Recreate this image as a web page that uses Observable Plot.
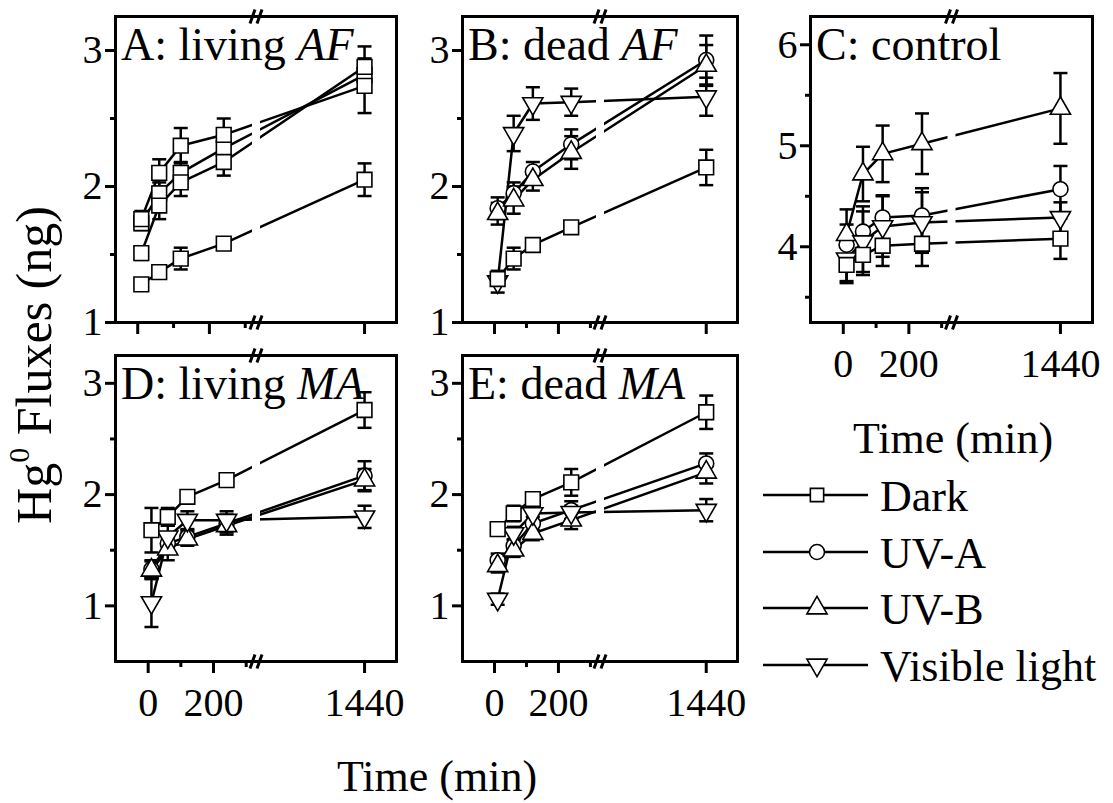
<!DOCTYPE html>
<html>
<head>
<meta charset="utf-8">
<script src="https://cdn.jsdelivr.net/npm/d3@7"></script>
<script src="https://cdn.jsdelivr.net/npm/@observablehq/plot@0.6"></script>
<style>
  html, body { margin: 0; padding: 0; background: white; }
  #root { position: relative; width: 1113px; height: 803px; background: white; overflow: hidden; font-family: "Liberation Serif", "Times New Roman", serif; }
  #root svg.plotpanel { position: absolute; background: transparent; overflow: visible; }
  #overlay { position: absolute; left: 0; top: 0; }
</style>
</head>
<body>
<div id="root"></div>
<script>
// ---------------- data ----------------
const times = [10, 60, 120, 240, 1440];
const seriesNames = ["Dark", "UV-A", "UV-B", "Visible light"];
const xTickMajor = [0, 200, 1440];
const xTickMinor = [100, 300];
const breakTime = 330;

// rows: Dark, UV-A, UV-B, Visible light
const aMean = [[1.28, 1.37, 1.47, 1.58, 2.05], [1.73, 1.95, 2.10, 2.28, 2.82], [1.51, 1.86, 2.03, 2.18, 2.88], [1.76, 2.10, 2.30, 2.38, 2.74]];
const aErr  = [[0.04, 0.04, 0.08, 0.03, 0.12], [0.05, 0.08, 0.08, 0.10, 0.12], [0.05, 0.10, 0.10, 0.10, 0.15], [0.06, 0.10, 0.13, 0.12, 0.20]];

const bMean = [[1.32, 1.47, 1.57, 1.70, 2.14], [1.84, 1.95, 2.11, 2.31, 2.93], [1.80, 1.90, 2.05, 2.25, 2.89], [1.30, 2.39, 2.61, 2.62, 2.66]];
const bErr  = [[0.04, 0.08, 0.04, 0.04, 0.13], [0.08, 0.08, 0.07, 0.11, 0.18], [0.08, 0.10, 0.08, 0.12, 0.15], [0.08, 0.13, 0.12, 0.10, 0.14]];

const cMean = [[3.82, 3.92, 4.01, 4.03, 4.08], [4.02, 4.15, 4.29, 4.31, 4.57], [4.12, 4.72, 4.92, 5.02, 5.37], [3.88, 4.05, 4.20, 4.24, 4.29]];
const cErr  = [[0.18, 0.20, 0.20, 0.22, 0.20], [0.20, 0.25, 0.22, 0.27, 0.23], [0.25, 0.27, 0.28, 0.30, 0.35], [0.22, 0.30, 0.30, 0.30, 0.15]];

const dMean = [[1.68, 1.80, 1.98, 2.13, 2.76], [1.33, 1.56, 1.62, 1.74, 2.17], [1.32, 1.51, 1.60, 1.72, 2.13], [1.03, 1.62, 1.77, 1.77, 1.80]];
const dErr  = [[0.20, 0.08, 0.05, 0.04, 0.16], [0.08, 0.08, 0.06, 0.08, 0.13], [0.08, 0.10, 0.06, 0.08, 0.10], [0.22, 0.10, 0.08, 0.08, 0.10]];

const eMean = [[1.69, 1.83, 1.96, 2.11, 2.74], [1.41, 1.54, 1.74, 1.86, 2.28], [1.36, 1.50, 1.65, 1.77, 2.20], [1.06, 1.65, 1.83, 1.84, 1.86]];
const eErr  = [[0.06, 0.07, 0.05, 0.12, 0.15], [0.06, 0.06, 0.06, 0.08, 0.09], [0.06, 0.06, 0.06, 0.08, 0.10], [0.05, 0.06, 0.06, 0.06, 0.10]];

const FONT = "'Liberation Serif', 'Times New Roman', serif";
const root = document.getElementById("root");

const capSymbol = { draw(ctx) { ctx.moveTo(-7, 0); ctx.lineTo(7, 0); } };
const slashSymbol = { draw(ctx) { ctx.moveTo(-6, 7); ctx.lineTo(-1, -7); ctx.moveTo(1, 7); ctx.lineTo(6, -7); } };

function buildPanel(cfg) {
  const { mean, err, yDomain, yMajor, yMinor, leftT, labelPlain, labelItalic, showXLabels, allSquares, frameLeft, frameTop, frameW, frameH } = cfg;
  const xpos = t => t <= breakTime ? 0.5 * (t - leftT) / (breakTime - leftT) : 0.5 + 0.5 * (t - 1107) / (1538 - 1107);
  const rows = [];
  seriesNames.forEach((s, i) => times.forEach((t, j) => rows.push({ series: s, t, x: xpos(t), y: mean[i][j], e: err[i][j] })));
  const isSquare = d => allSquares || d.series === "Dark";
  const mL = 70, mT = 14, mR = 14, mB = 80;
  const majorLabel = new Map(xTickMajor.map(t => [xpos(t), String(t)]));
  const plot = Plot.plot({
    width: frameW + mL + mR,
    height: frameH + mT + mB,
    marginLeft: mL, marginTop: mT, marginRight: mR, marginBottom: mB,
    x: { domain: [0, 1], axis: null },
    y: { domain: yDomain, axis: null },
    symbol: { domain: seriesNames, range: allSquares ? ["square", "square", "square", "square"] : ["square", "circle", "triangle", "triangle"] },
    style: { fontFamily: FONT, color: "black", background: "transparent", overflow: "visible" },
    marks: [
      Plot.line(rows, { x: "x", y: "y", z: "series", stroke: "black", strokeWidth: 2.5 }),
      Plot.ruleX([xpos(breakTime)], { x: d => d, stroke: "white", strokeWidth: 8 }),
      Plot.ruleX(rows, { x: "x", y1: d => d.y - d.e, y2: d => d.y + d.e, stroke: "black", strokeWidth: 2.5 }),
      Plot.dot(rows, { x: "x", y: d => d.y + d.e, symbol: capSymbol, fill: "none", stroke: "black", strokeWidth: 2.5 }),
      Plot.dot(rows, { x: "x", y: d => d.y - d.e, symbol: capSymbol, fill: "none", stroke: "black", strokeWidth: 2.5 }),
      Plot.dot(rows, { filter: d => !isSquare(d), x: "x", y: "y", symbol: "series", rotate: d => d.series === "Visible light" ? 180 : 0, r: 7.5, fill: "white", stroke: "black", strokeWidth: 1.6 }),
      Plot.dot(rows, { filter: isSquare, x: "x", y: "y", symbol: "series", r: 8.3, fill: "white", stroke: "black", strokeWidth: 1.6 }),
      Plot.frame({ stroke: "black", strokeWidth: 3 }),
      Plot.axisY(yMinor, { anchor: "left", tickSize: 5, tickFormat: () => "", strokeWidth: 3, label: null }),
      Plot.axisY(yMajor, { anchor: "left", tickSize: 10, tickPadding: 3, fontSize: 40, strokeWidth: 3, label: null, tickFormat: d => String(d) }),
      Plot.axisX(xTickMinor.map(xpos), { anchor: "bottom", tickSize: 6, tickFormat: () => "", strokeWidth: 3, label: null }),
      Plot.axisX(xTickMajor.map(xpos), { anchor: "bottom", tickSize: 12, tickPadding: 14, fontSize: 40, strokeWidth: 3, label: null,
        tickFormat: d => showXLabels ? majorLabel.get(d) : "" }),
      Plot.dot([xpos(breakTime)], { x: d => d, frameAnchor: "top", symbol: slashSymbol, fill: "none", stroke: "black", strokeWidth: 3 }),
      Plot.dot([xpos(breakTime)], { x: d => d, frameAnchor: "bottom", symbol: slashSymbol, fill: "none", stroke: "black", strokeWidth: 3 })
    ]
  });
  plot.classList.add("plotpanel");
  plot.setAttribute("font-family", FONT);
  plot.style.left = (frameLeft - mL) + "px";
  plot.style.top = (frameTop - mT) + "px";
  const t = d3.select(plot).append("text")
    .attr("x", mL + 6).attr("y", mT + 44).attr("text-anchor", "start")
    .attr("font-family", FONT).attr("font-size", 46).attr("fill", "black");
  t.append("tspan").text(labelPlain);
  if (labelItalic) t.append("tspan").attr("font-style", "italic").text(labelItalic);
  root.appendChild(plot);
}

buildPanel({ mean: aMean, err: aErr, yDomain: [1, 3.25], yMajor: [1, 2, 3], yMinor: [1.5, 2.5], leftT: -62,
  labelPlain: "A: living ", labelItalic: "AF", showXLabels: false, allSquares: true, frameLeft: 115, frameTop: 16, frameW: 281, frameH: 306 });
buildPanel({ mean: bMean, err: bErr, yDomain: [1, 3.25], yMajor: [1, 2, 3], yMinor: [1.5, 2.5], leftT: -100,
  labelPlain: "B: dead ", labelItalic: "AF", showXLabels: false, allSquares: false, frameLeft: 462, frameTop: 16, frameW: 275, frameH: 306 });
buildPanel({ mean: cMean, err: cErr, yDomain: [3.25, 6.28], yMajor: [4, 5, 6], yMinor: [3.5, 4.5, 5.5], leftT: -100,
  labelPlain: "C: control", labelItalic: "", showXLabels: true, allSquares: false, frameLeft: 810, frameTop: 16, frameW: 282, frameH: 306 });
buildPanel({ mean: dMean, err: dErr, yDomain: [0.5, 3.25], yMajor: [1, 2, 3], yMinor: [1.5, 2.5], leftT: -100,
  labelPlain: "D: living ", labelItalic: "MA", showXLabels: true, allSquares: false, frameLeft: 115, frameTop: 355, frameW: 281, frameH: 306 });
buildPanel({ mean: eMean, err: eErr, yDomain: [0.5, 3.25], yMajor: [1, 2, 3], yMinor: [1.5, 2.5], leftT: -100,
  labelPlain: "E: dead ", labelItalic: "MA", showXLabels: true, allSquares: false, frameLeft: 462, frameTop: 355, frameW: 275, frameH: 306 });

// ---------------- overlay: titles and legend ----------------
const ov = d3.select(root).append("svg").attr("id", "overlay").attr("width", 1113).attr("height", 803)
  .attr("font-family", FONT).attr("fill", "black");

const yt = ov.append("text").attr("transform", "translate(51,365) rotate(-90)")
  .attr("text-anchor", "middle").attr("font-size", 50);
yt.append("tspan").text("Hg");
yt.append("tspan").attr("font-size", 30).attr("dy", -22).text("0");
yt.append("tspan").attr("dy", 22).text(" Fluxes (ng)");

ov.append("text").attr("x", 437).attr("y", 791).attr("text-anchor", "middle").attr("font-size", 44).text("Time (min)");
ov.append("text").attr("x", 953).attr("y", 453).attr("text-anchor", "middle").attr("font-size", 44).text("Time (min)");

const legendY = [495, 552, 608, 665];
const legendSymbols = [d3.symbolSquare, d3.symbolCircle, d3.symbolTriangle, d3.symbolTriangle];
seriesNames.forEach((s, i) => {
  const g = ov.append("g").attr("transform", `translate(0,${legendY[i]})`);
  g.append("line").attr("x1", 763).attr("x2", 868).attr("stroke", "black").attr("stroke-width", 2.5);
  g.append("path").attr("d", d3.symbol(legendSymbols[i], Math.PI * 7.5 * 7.5)())
    .attr("transform", `translate(817,0) rotate(${i === 3 ? 180 : 0})`)
    .attr("fill", "white").attr("stroke", "black").attr("stroke-width", 1.6);
  g.append("text").attr("x", 880).attr("y", 16).attr("font-size", 44).text(s);
});
</script>
</body>
</html>
